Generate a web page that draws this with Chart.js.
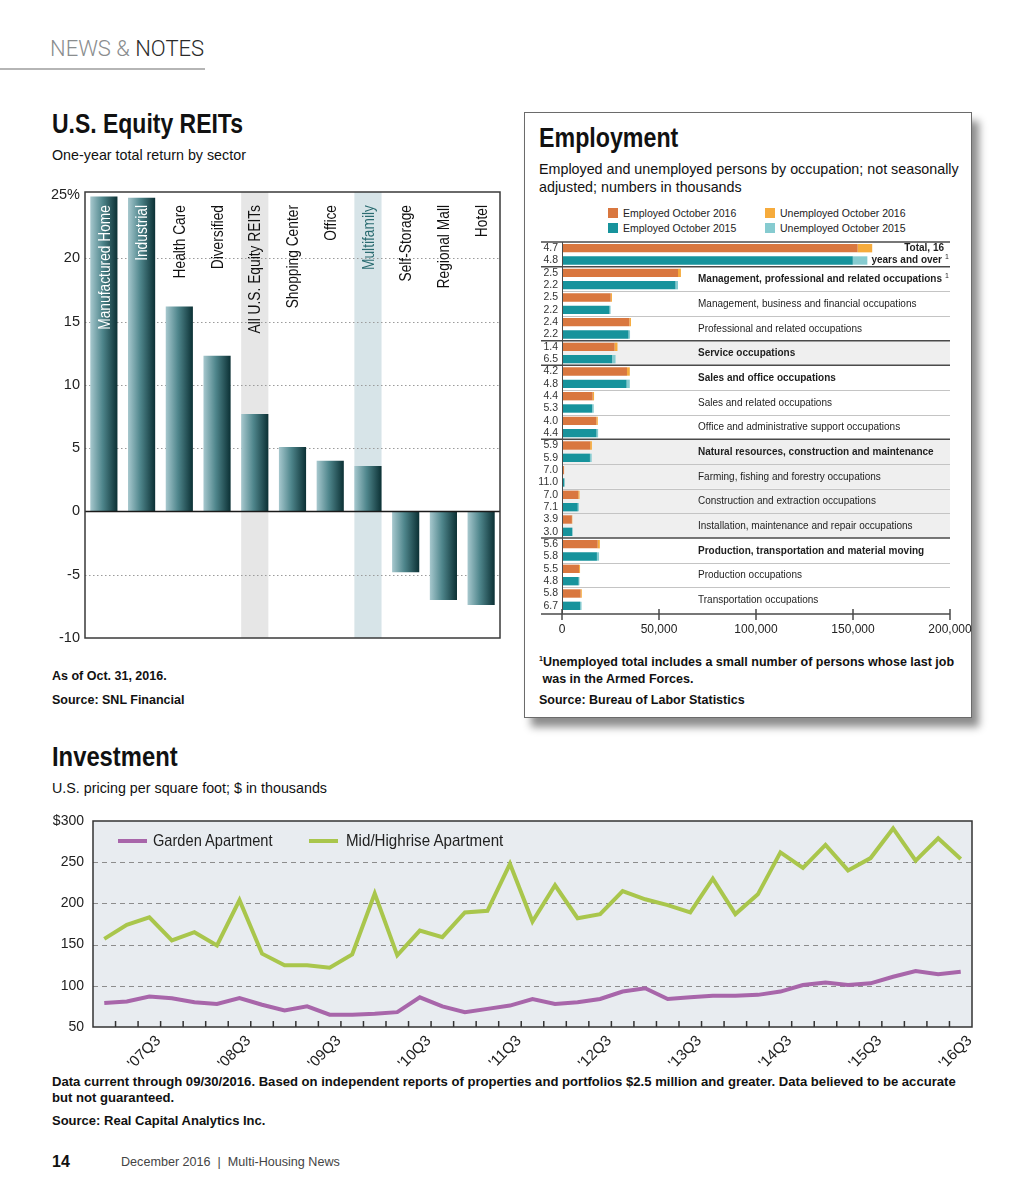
<!DOCTYPE html>
<html>
<head>
<meta charset="utf-8">
<title>News &amp; Notes charts</title>
<script src="https://cdn.jsdelivr.net/npm/chart.js@4.4.1/dist/chart.umd.min.js"></script>
<style>
  html, body { margin: 0; padding: 0; background: #fff; }
  body { position: relative; width: 1024px; height: 1195px; overflow: hidden; font-family: "Liberation Sans", Arial, sans-serif; color: #111; }
  .abs { position: absolute; white-space: nowrap; }
  .narrow { transform-origin: 0 0; }
  .title { font-weight: bold; font-size: 28px; line-height: 30px; }
  .sub { font-size: 14.3px; line-height: 16px; }
  .note { font-weight: bold; font-size: 12.5px; line-height: 16px; }
  canvas { position: absolute; }
  #empBox { position: absolute; left: 524px; top: 112px; width: 448px; height: 606px; box-sizing: border-box; border: 1px solid #6b6b6b; background: #fff; box-shadow: 7px 9px 8px rgba(0,0,0,0.45); }
  .sw { position: absolute; width: 10px; height: 10px; }
  .lg { font-size: 10.5px; line-height: 12px; color: #222; }
  .lgline { position: absolute; width: 29px; height: 4px; }
  .lgtext { font-size: 17px; line-height: 20px; color: #222; }
</style>
</head>
<body>

<div class="abs" style="left:50px;top:36px;font:300 22px/26px Roboto, 'Liberation Sans', sans-serif;"><span style="color:#8a8d8e">NEWS &amp;</span> <span style="color:#2a2a2a">NOTES</span></div>
<div class="abs" style="left:0;top:68px;width:205px;height:2px;background:#b5b5b5"></div>

<div class="abs narrow title" style="left:52px;top:109px;transform:scaleX(0.82)">U.S. Equity REITs</div>
<div class="abs sub" style="left:52px;top:147px">One-year total return by sector</div>
<canvas id="reitChart" width="470" height="470" style="left:40px;top:180px"></canvas>
<div class="abs note" style="left:52px;top:668px">As of Oct. 31, 2016.</div>
<div class="abs note" style="left:52px;top:692px">Source: SNL Financial</div>

<div id="empBox"></div>
<div class="abs narrow title" style="left:539px;top:123px;font-size:27px;transform:scaleX(0.86)">Employment</div>
<div class="abs" style="left:539px;top:161px;font-size:14.3px;line-height:17.5px">Employed and unemployed persons by occupation; not seasonally<br>adjusted; numbers in thousands</div>
<div class="sw" style="left:608px;top:208px;background:#d9773f"></div>
<div class="abs lg" style="left:623px;top:207px">Employed October 2016</div>
<div class="sw" style="left:608px;top:223px;background:#17939c"></div>
<div class="abs lg" style="left:623px;top:222px">Employed October 2015</div>
<div class="sw" style="left:765px;top:208px;background:#f6ab3c"></div>
<div class="abs lg" style="left:780px;top:207px">Unemployed October 2016</div>
<div class="sw" style="left:765px;top:223px;background:#86cbd0"></div>
<div class="abs lg" style="left:780px;top:222px">Unemployed October 2015</div>
<canvas id="empChart" width="445" height="410" style="left:530px;top:236px"></canvas>
<div class="abs note" style="left:539px;top:650px;line-height:17px"><sup style="font-size:7px">1</sup>Unemployed total includes a small number of persons whose last job<br>&nbsp;was in the Armed Forces.</div>
<div class="abs note" style="left:539px;top:692px">Source: Bureau of Labor Statistics</div>

<div class="abs narrow title" style="left:52px;top:742px;transform:scaleX(0.85)">Investment</div>
<div class="abs sub" style="left:52px;top:780px">U.S. pricing per square foot; $ in thousands</div>
<canvas id="invChart" width="945" height="262" style="left:40px;top:812px"></canvas>
<div class="lgline" style="left:118px;top:839px;background:#a866aa"></div>
<div class="abs narrow lgtext" style="left:153px;top:831px;transform:scaleX(0.86)">Garden Apartment</div>
<div class="lgline" style="left:309px;top:839px;background:#a9c64c"></div>
<div class="abs narrow lgtext" style="left:346px;top:831px;transform:scaleX(0.89)">Mid/Highrise Apartment</div>
<div class="abs note" style="left:52px;top:1074px;font-size:13.1px">Data current through 09/30/2016. Based on independent reports of properties and portfolios $2.5 million and greater. Data believed to be accurate<br>but not guaranteed.</div>
<div class="abs note" style="left:52px;top:1113px;font-size:13px">Source: Real Capital Analytics Inc.</div>
<div class="abs" style="left:52px;top:1153px;font-weight:bold;font-size:16px;line-height:18px">14</div>
<div class="abs" style="left:121px;top:1154px;font-size:12.6px;line-height:16px;color:#444">December 2016 &nbsp;|&nbsp; Multi-Housing News</div>

<script>
const SANS = '"Liberation Sans", Arial, sans-serif';

// U.S. Equity REITs, one-year total return (%)
const reitSectors = ["Manufactured Home", "Industrial", "Health Care", "Diversified", "All U.S. Equity REITs",
  "Shopping Center", "Office", "Multifamily", "Self-Storage", "Regional Mall", "Hotel"];
const reitReturns = [24.9, 24.8, 16.2, 12.3, 7.7, 5.1, 4.0, 3.6, -4.8, -7.0, -7.4];
const reitTicks = [-10, -5, 0, 5, 10, 15, 20, 25];

// Employment by occupation, thousands; rates are the unemployment rates printed left of the bars
const occupations = ["Total, 16 years and over", "Management, professional and related occupations",
  "Management, business and financial occupations", "Professional and related occupations",
  "Service occupations", "Sales and office occupations", "Sales and related occupations",
  "Office and administrative support occupations", "Natural resources, construction and maintenance",
  "Farming, fishing and forestry occupations", "Construction and extraction occupations",
  "Installation, maintenance and repair occupations", "Production, transportation and material moving",
  "Production occupations", "Transportation occupations"];
const rate2016 = ["4.7", "2.5", "2.5", "2.4", "1.4", "4.2", "4.4", "4.0", "5.9", "7.0", "7.0", "3.9", "5.6", "5.5", "5.8"];
const rate2015 = ["4.8", "2.2", "2.2", "2.2", "6.5", "4.8", "5.3", "4.4", "5.9", "11.0", "7.1", "3.0", "5.8", "4.8", "6.7"];
const employed2016 = [152400, 59800, 25100, 34700, 27100, 33500, 15800, 17700, 14500, 1000, 8400, 5100, 18400, 8800, 9600];
const unemployed2016 = [7500, 1500, 650, 850, 1500, 1450, 730, 740, 900, 80, 630, 210, 1100, 500, 600];
const employed2015 = [149900, 58500, 24500, 34300, 25800, 33300, 15500, 17800, 14400, 1200, 8100, 5300, 18000, 8600, 9400];
const unemployed2015 = [7500, 1300, 550, 770, 1800, 1650, 870, 820, 900, 150, 620, 160, 1100, 430, 680];

// Investment, U.S. pricing per square foot
const quarters = ["'07Q1", "'07Q2", "'07Q3", "'07Q4", "'08Q1", "'08Q2", "'08Q3", "'08Q4",
  "'09Q1", "'09Q2", "'09Q3", "'09Q4", "'10Q1", "'10Q2", "'10Q3", "'10Q4",
  "'11Q1", "'11Q2", "'11Q3", "'11Q4", "'12Q1", "'12Q2", "'12Q3", "'12Q4",
  "'13Q1", "'13Q2", "'13Q3", "'13Q4", "'14Q1", "'14Q2", "'14Q3", "'14Q4",
  "'15Q1", "'15Q2", "'15Q3", "'15Q4", "'16Q1", "'16Q2", "'16Q3"];
const gardenApt = [79, 81, 87, 85, 80, 78, 85, 77, 70, 75, 65, 65, 66, 68, 86, 75, 68, 72, 76, 84,
  78, 80, 84, 93, 97, 84, 86, 88, 88, 89, 93, 101, 104, 101, 103, 111, 118, 114, 117];
const highriseApt = [157, 174, 183, 155, 165, 149, 204, 139, 125, 125, 122, 138, 212, 137, 167, 159, 189, 191, 248, 178,
  222, 182, 187, 215, 205, 198, 189, 230, 187, 211, 262, 243, 271, 240, 255, 291, 252, 279, 254];

// condensed look without a narrow font: squeeze along the text direction
function narrowText(ctx, text, x, y, sx) {
  ctx.save();
  ctx.translate(x, y);
  ctx.scale(sx, 1);
  ctx.fillText(text, 0, 0);
  ctx.restore();
}

// ---------- REITs ----------
const REIT_BAR = 0.72;
const reitShade = { "All U.S. Equity REITs": "#e6e6e6", "Multifamily": "#d7e4e8" };
const reitTextColor = { "Manufactured Home": "#ffffff", "Industrial": "#ffffff", "Multifamily": "#2b6c71" };

function reitBarFill(c) {
  const chart = c.chart;
  const x = chart.scales.x;
  if (!chart.chartArea || !x || c.dataIndex === undefined) return "#3d6f75";
  const w = x.width / reitSectors.length * REIT_BAR;
  const cx = x.getPixelForValue(c.dataIndex);
  const g = chart.ctx.createLinearGradient(cx - w / 2, 0, cx + w / 2, 0);
  g.addColorStop(0, "#a7c8ce");
  g.addColorStop(0.45, "#4f868c");
  g.addColorStop(1, "#0b3034");
  return g;
}

const reitDecor = {
  id: "reitDecor",
  beforeDatasetsDraw(chart) {
    const { ctx, chartArea: a, scales: { x, y } } = chart;
    const w = x.width / reitSectors.length * REIT_BAR;
    ctx.save();
    reitSectors.forEach((s, i) => {
      if (!reitShade[s]) return;
      ctx.fillStyle = reitShade[s];
      ctx.fillRect(x.getPixelForValue(i) - w / 2, a.top, w, a.bottom - a.top);
    });
    ctx.strokeStyle = "#9b9b9b";
    ctx.lineWidth = 1;
    ctx.setLineDash([1.5, 2.5]);
    y.ticks.forEach((t) => {
      if (t.value === 0 || t.value <= y.min || t.value >= 25) return;
      const py = Math.round(y.getPixelForValue(t.value)) + 0.5;
      ctx.beginPath();
      ctx.moveTo(a.left, py);
      ctx.lineTo(a.right, py);
      ctx.stroke();
    });
    ctx.restore();
  },
  afterDatasetsDraw(chart) {
    const { ctx, chartArea: a, scales: { x, y } } = chart;
    ctx.save();
    ctx.strokeStyle = "#1a1a1a";
    ctx.lineWidth = 1.5;
    const y0 = y.getPixelForValue(0);
    ctx.beginPath();
    ctx.moveTo(a.left, y0);
    ctx.lineTo(a.right, y0);
    ctx.stroke();
    ctx.strokeStyle = "#3a3a3a";
    ctx.strokeRect(a.left, a.top, a.right - a.left, a.bottom - a.top);
    ctx.font = `17px ${SANS}`;
    ctx.textAlign = "right";
    ctx.textBaseline = "middle";
    reitSectors.forEach((s, i) => {
      ctx.save();
      ctx.translate(x.getPixelForValue(i) + 1, a.top + 13);
      ctx.rotate(-Math.PI / 2);
      ctx.fillStyle = reitTextColor[s] || "#111";
      narrowText(ctx, s, 0, 0, 0.81);
      ctx.restore();
    });
    ctx.restore();
  }
};

new Chart(document.getElementById("reitChart"), {
  type: "bar",
  data: {
    labels: reitSectors,
    datasets: [{ data: reitReturns, backgroundColor: reitBarFill, borderWidth: 0,
      barPercentage: REIT_BAR, categoryPercentage: 1 }]
  },
  options: {
    responsive: false,
    animation: false,
    layout: { padding: { top: 12, right: 10, bottom: 12, left: 0 } },
    plugins: { legend: { display: false }, tooltip: { enabled: false } },
    scales: {
      x: { display: false },
      y: {
        min: -10, max: 25.25,
        afterBuildTicks: (s) => { s.ticks = reitTicks.map((v) => ({ value: v })); },
        afterFit: (s) => { s.width = 45; s.paddingTop = 0; s.paddingBottom = 0; },
        ticks: { color: "#222", padding: 5, font: { family: SANS, size: 14.5 },
          callback: (v) => (v === 25 ? "25%" : v) },
        grid: { display: false, drawTicks: false },
        border: { display: false }
      }
    }
  },
  plugins: [reitDecor]
});

// ---------- Employment ----------
const EMP_COLORS = { emp16: "#d9773f", unemp16: "#f6ab3c", emp15: "#17939c", unemp15: "#86cbd0" };
const majorGroups = ["Total, 16 years and over", "Management, professional and related occupations",
  "Service occupations", "Sales and office occupations",
  "Natural resources, construction and maintenance", "Production, transportation and material moving"];
const shadedGroups = ["Service occupations", "Natural resources, construction and maintenance",
  "Farming, fishing and forestry occupations", "Construction and extraction occupations",
  "Installation, maintenance and repair occupations"];

const empRowLabels = [];
occupations.forEach((_, k) => { empRowLabels.push(rate2016[k], rate2015[k]); });

function rowsFor(values, year) {
  const out = [];
  values.forEach((v) => { out.push(year === 2016 ? v : null, year === 2015 ? v : null); });
  return out;
}

function catTop(y, k) {
  const rowH = y.getPixelForValue(1) - y.getPixelForValue(0);
  return y.getPixelForValue(2 * k) - rowH / 2;
}

const empDecor = {
  id: "empDecor",
  beforeDatasetsDraw(chart) {
    const { ctx, chartArea: a, scales: { y } } = chart;
    ctx.save();
    occupations.forEach((o, k) => {
      if (!shadedGroups.includes(o)) return;
      ctx.fillStyle = "#efefef";
      ctx.fillRect(a.left, catTop(y, k), a.right - a.left, catTop(y, k + 1) - catTop(y, k));
    });
    ctx.strokeStyle = "#c4c4c4";
    ctx.lineWidth = 1;
    occupations.forEach((o, k) => {
      if (k === 0 || majorGroups.includes(o)) return;
      const py = Math.round(catTop(y, k)) + 0.5;
      ctx.beginPath();
      ctx.moveTo(a.left, py);
      ctx.lineTo(a.right, py);
      ctx.stroke();
    });
    ctx.restore();
  },
  afterDatasetsDraw(chart) {
    const { ctx, chartArea: a, scales: { x, y } } = chart;
    const axisY = a.bottom + 2;
    ctx.save();
    ctx.strokeStyle = "#4a4a4a";
    ctx.lineWidth = 1.5;
    occupations.forEach((o, k) => {
      if (!majorGroups.includes(o)) return;
      const py = catTop(y, k);
      ctx.beginPath();
      ctx.moveTo(a.left - 21, py);
      ctx.lineTo(a.right, py);
      ctx.stroke();
    });
    ctx.beginPath();
    ctx.moveTo(a.left - 21, axisY);
    ctx.lineTo(a.right, axisY);
    ctx.stroke();
    x.ticks.forEach((t) => {
      const px = x.getPixelForValue(t.value);
      ctx.beginPath();
      ctx.moveTo(px, axisY - 5);
      ctx.lineTo(px, axisY + 6);
      ctx.stroke();
    });
    ctx.lineWidth = 1;
    ctx.beginPath();
    ctx.moveTo(a.left + 0.5, a.top);
    ctx.lineTo(a.left + 0.5, axisY);
    ctx.stroke();

    ctx.fillStyle = "#1e1e1e";
    ctx.textBaseline = "middle";
    occupations.forEach((o, k) => {
      const cy = (catTop(y, k) + catTop(y, k + 1)) / 2;
      const bold = majorGroups.includes(o);
      ctx.font = `${bold ? "bold " : ""}10px ${SANS}`;
      if (k === 0) {
        ctx.textAlign = "right";
        ctx.fillText("Total, 16", a.right - 6, y.getPixelForValue(0));
        ctx.fillText("years and over", a.right - 8, y.getPixelForValue(1));
        ctx.font = `7px ${SANS}`;
        ctx.textAlign = "left";
        ctx.fillText("1", a.right - 5, y.getPixelForValue(1) - 3);
        return;
      }
      ctx.textAlign = "left";
      const tx = a.left + 136;
      ctx.fillText(o, tx, cy + 0.5);
      if (k === 1) {
        const w = ctx.measureText(o).width;
        ctx.font = `7px ${SANS}`;
        ctx.fillText("1", tx + w + 3, cy - 3);
      }
    });
    ctx.restore();
  }
};

new Chart(document.getElementById("empChart"), {
  type: "bar",
  data: {
    labels: empRowLabels,
    datasets: [
      { label: "Employed October 2016", data: rowsFor(employed2016, 2016), backgroundColor: EMP_COLORS.emp16 },
      { label: "Unemployed October 2016", data: rowsFor(unemployed2016, 2016), backgroundColor: EMP_COLORS.unemp16 },
      { label: "Employed October 2015", data: rowsFor(employed2015, 2015), backgroundColor: EMP_COLORS.emp15 },
      { label: "Unemployed October 2015", data: rowsFor(unemployed2015, 2015), backgroundColor: EMP_COLORS.unemp15 }
    ]
  },
  options: {
    indexAxis: "y",
    responsive: false,
    animation: false,
    datasets: { bar: { barPercentage: 0.68, categoryPercentage: 1, borderWidth: 0 } },
    layout: { padding: { top: 6, right: 25, bottom: 6, left: 0 } },
    plugins: { legend: { display: false }, tooltip: { enabled: false } },
    scales: {
      x: {
        stacked: true, min: 0, max: 200000,
        afterFit: (s) => { s.height = 28; s.paddingLeft = 0; s.paddingRight = 0; },
        ticks: { stepSize: 50000, color: "#222", padding: 10, font: { family: SANS, size: 12 },
          callback: (v) => v.toLocaleString("en-US") },
        grid: { display: false, drawTicks: false },
        border: { display: false }
      },
      y: {
        stacked: true,
        afterFit: (s) => { s.width = 32; s.paddingTop = 0; s.paddingBottom = 0; },
        ticks: { autoSkip: false, color: "#333", padding: 4, font: { family: SANS, size: 10.5 } },
        grid: { display: false, drawTicks: false },
        border: { display: false }
      }
    }
  },
  plugins: [empDecor]
});

// ---------- Investment ----------
const invDecor = {
  id: "invDecor",
  beforeDraw(chart) {
    const { ctx, chartArea: a } = chart;
    ctx.save();
    ctx.fillStyle = "#e8ecf0";
    ctx.fillRect(a.left, a.top, a.right - a.left, a.bottom - a.top);
    ctx.restore();
  },
  beforeDatasetsDraw(chart) {
    const { ctx, chartArea: a, scales: { y } } = chart;
    ctx.save();
    ctx.strokeStyle = "#8c8c8c";
    ctx.lineWidth = 1;
    ctx.setLineDash([5, 4]);
    y.ticks.forEach((t) => {
      if (t.value <= y.min || t.value >= y.max) return;
      const py = Math.round(y.getPixelForValue(t.value)) + 0.5;
      ctx.beginPath();
      ctx.moveTo(a.left, py);
      ctx.lineTo(a.right, py);
      ctx.stroke();
    });
    ctx.restore();
  },
  afterDatasetsDraw(chart) {
    const { ctx, chartArea: a, scales: { x } } = chart;
    ctx.save();
    ctx.strokeStyle = "#333";
    ctx.lineWidth = 1.5;
    ctx.strokeRect(a.left, a.top, a.right - a.left, a.bottom - a.top);
    for (let i = 1; i < quarters.length; i++) {
      const px = (x.getPixelForValue(i - 1) + x.getPixelForValue(i)) / 2;
      ctx.beginPath();
      ctx.moveTo(px, a.bottom);
      ctx.lineTo(px, a.bottom - 6);
      ctx.stroke();
    }
    ctx.restore();
  }
};

new Chart(document.getElementById("invChart"), {
  type: "line",
  data: {
    labels: quarters,
    datasets: [
      { label: "Garden Apartment", data: gardenApt, borderColor: "#a866aa", borderWidth: 4, pointRadius: 0, tension: 0 },
      { label: "Mid/Highrise Apartment", data: highriseApt, borderColor: "#a9c64c", borderWidth: 4, pointRadius: 0, tension: 0 }
    ]
  },
  options: {
    responsive: false,
    animation: false,
    layout: { padding: { top: 9, right: 13, bottom: 3, left: 0 } },
    plugins: { legend: { display: false }, tooltip: { enabled: false } },
    scales: {
      x: {
        offset: true,
        afterFit: (s) => { s.height = 44; s.paddingLeft = 0; s.paddingRight = 0; s.paddingTop = 0; },
        ticks: { autoSkip: false, maxRotation: 45, minRotation: 45, color: "#222", padding: 5, labelOffset: 9,
          font: { family: SANS, size: 15 },
          callback: (v, i) => (quarters[i].endsWith("Q3") ? quarters[i] : "") },
        grid: { display: false, drawTicks: false },
        border: { display: false }
      },
      y: {
        min: 50, max: 300,
        afterFit: (s) => { s.width = 53; s.paddingTop = 0; s.paddingBottom = 0; },
        ticks: { stepSize: 50, color: "#222", padding: 9, font: { family: SANS, size: 14 },
          callback: (v) => (v === 300 ? "$300" : v) },
        grid: { display: false, drawTicks: false },
        border: { display: false }
      }
    }
  },
  plugins: [invDecor]
});
</script>
</body>
</html>
